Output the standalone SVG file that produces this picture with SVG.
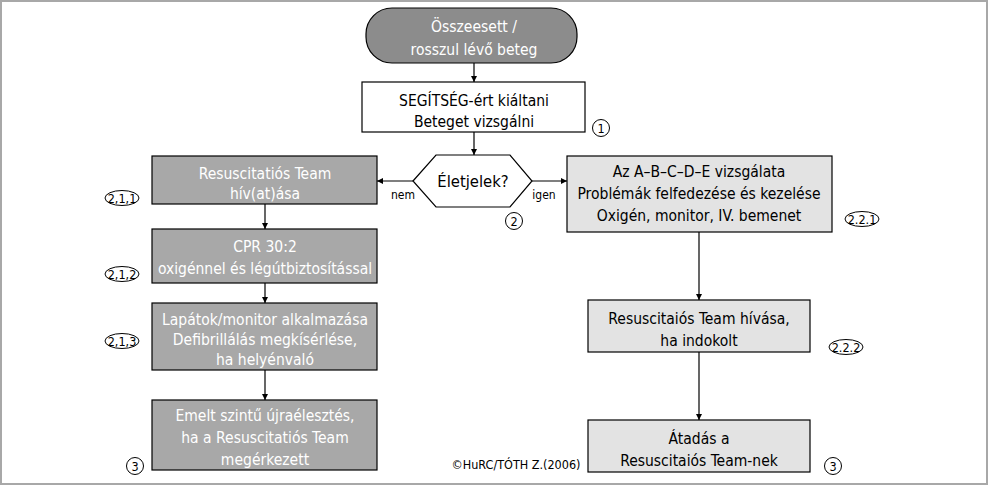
<svg xmlns="http://www.w3.org/2000/svg" width="988" height="485" viewBox="0 0 988 485">
<style>
text{font-family:"Liberation Sans Narrow","DejaVu Sans Condensed","Liberation Sans",sans-serif;font-size:15.5px;text-anchor:middle}
.w{fill:#fff}
.k{fill:#000}
.box{stroke:#000;stroke-width:1.2}
.dark{fill:#a8a8a8}
.light{fill:#e3e3e3}
.edge{stroke:#000;stroke-width:1.2;fill:none;marker-end:url(#ah)}
.tag{fill:#fff;stroke:#000;stroke-width:1}
.tt{font-size:12.5px}
.sm{font-size:12px}
</style>
<defs>
<marker id="ah" viewBox="0 0 10 10" refX="10" refY="5" markerWidth="6" markerHeight="6" markerUnits="userSpaceOnUse" orient="auto">
<path d="M0,0 L10,5 L0,10 z" fill="#000"/>
</marker>
</defs>
<rect x="1" y="1" width="986" height="483" fill="#fff" stroke="#a8a8a8" stroke-width="2"/>

<g id="connectors">
<path class="edge" d="M474,63 V82"/>
<path class="edge" d="M474,132 V155"/>
<path class="edge" d="M413,181 H377"/>
<path class="edge" d="M532,181 H567"/>
<path class="edge" d="M265,204 V229"/>
<path class="edge" d="M265,283 V303"/>
<path class="edge" d="M265,370 V400"/>
<path class="edge" d="M699,232 V300"/>
<path class="edge" d="M699,352 V420"/>
<text x="403" y="199" class="sm">nem</text>
<text x="544" y="199" class="sm">igen</text>
</g>

<g id="start">
<rect x="366" y="8" width="211" height="55" rx="26" ry="26" fill="#8c8c8c" class="box"/>
<text x="474" y="32" class="w">Összeesett /</text>
<text x="474" y="55" class="w">rosszul lévő beteg</text>
</g>

<g id="step1">
<rect x="362" y="82" width="223" height="50" fill="#fff" class="box"/>
<text x="474" y="106" class="k">SEGÍTSÉG-ért kiáltani</text>
<text x="474" y="127" class="k">Beteget vizsgálni</text>
<circle cx="601" cy="128" r="8.5" class="tag"/>
<text x="601" y="132.5" class="tt">1</text>
</g>

<g id="decision">
<polygon points="413,181 436,155 510,155 532,181 510,207 436,207" fill="#fff" class="box"/>
<text x="473" y="187" class="k" style="font-size:16.5px">Életjelek?</text>
<circle cx="514" cy="221" r="8.5" class="tag"/>
<text x="514" y="225.5" class="tt">2</text>
</g>

<g id="n211">
<rect x="152" y="156" width="225" height="48" class="box dark"/>
<text x="265" y="179" class="w">Resuscitatiós Team</text>
<text x="265" y="199" class="w">hív(at)ása</text>
<ellipse cx="122" cy="198" rx="17" ry="7.5" class="tag"/>
<text x="122" y="202.5" class="tt">2,1,1</text>
</g>

<g id="n212">
<rect x="152" y="229" width="225" height="54" class="box dark"/>
<text x="265" y="252" class="w">CPR 30:2</text>
<text x="265" y="274" class="w">oxigénnel és légútbiztosítással</text>
<ellipse cx="122" cy="274" rx="17" ry="7.5" class="tag"/>
<text x="122" y="278.5" class="tt">2,1,2</text>
</g>

<g id="n213">
<rect x="152" y="303" width="225" height="67" class="box dark"/>
<text x="265" y="325" class="w">Lapátok/monitor alkalmazása</text>
<text x="265" y="345" class="w">Defibrillálás megkísérlése,</text>
<text x="265" y="365" class="w">ha helyénvaló</text>
<ellipse cx="122" cy="341" rx="17" ry="7.5" class="tag"/>
<text x="122" y="345.5" class="tt">2,1,3</text>
</g>

<g id="n3left">
<rect x="152" y="400" width="225" height="70" class="box dark"/>
<text x="265" y="421" class="w">Emelt szintű újraélesztés,</text>
<text x="265" y="443" class="w">ha a Resuscitatiós Team</text>
<text x="265" y="465" class="w">megérkezett</text>
<circle cx="135" cy="466" r="8.5" class="tag"/>
<text x="135" y="470.5" class="tt">3</text>
</g>

<g id="n221">
<rect x="567" y="156" width="265" height="76" class="box light"/>
<text x="699" y="177" class="k">Az A–B–C–D–E vizsgálata</text>
<text x="699" y="199" class="k">Problémák felfedezése és kezelése</text>
<text x="699" y="221" class="k">Oxigén, monitor, IV. bemenet</text>
<ellipse cx="862" cy="219" rx="17" ry="7.5" class="tag"/>
<text x="862" y="223.5" class="tt">2.2.1</text>
</g>

<g id="n222">
<rect x="588" y="300" width="222" height="52" class="box light"/>
<text x="699" y="324" class="k">Resuscitaiós Team hívása,</text>
<text x="699" y="346" class="k">ha indokolt</text>
<ellipse cx="846" cy="347" rx="17" ry="7.5" class="tag"/>
<text x="846" y="351.5" class="tt">2.2.2</text>
</g>

<g id="n3right">
<rect x="588" y="420" width="222" height="52" class="box light"/>
<text x="699" y="444" class="k">Átadás a</text>
<text x="699" y="466" class="k">Resuscitaiós Team-nek</text>
<circle cx="833" cy="466" r="8.5" class="tag"/>
<text x="833" y="470.5" class="tt">3</text>
</g>

<text x="516" y="469" class="k" style="font-size:12.5px">©HuRC/TÓTH Z.(2006)</text>
</svg>
